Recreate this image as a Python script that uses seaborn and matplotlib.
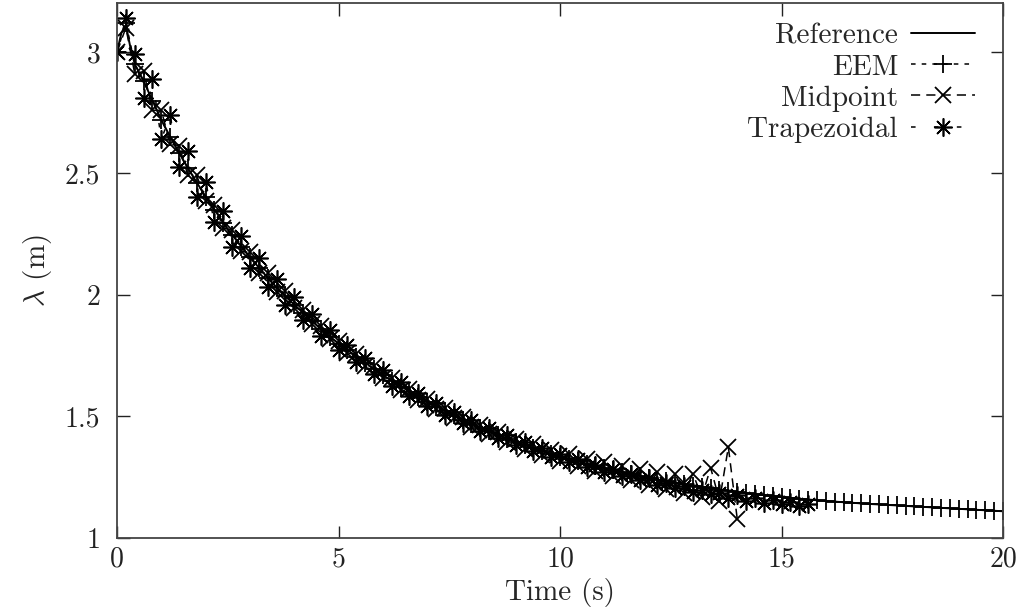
import numpy as np
import matplotlib
matplotlib.use("Agg")
import matplotlib.pyplot as plt
from matplotlib.ticker import FuncFormatter
import seaborn as sns

# ---------------- data ----------------
time_step = 0.2  # sampling step of the numerical methods (s)

ref_time = [0, 0.1, 0.2, 0.3, 0.4, 0.6, 0.8, 1.0, 1.25, 1.5, 1.75, 2.0, 2.5, 3.0,
            3.5, 4.0, 4.5, 5.0, 6.0, 7.0, 8.0, 9.0, 10.0, 11.0, 12.0, 13.0, 14.0,
            15.0, 16.0, 17.0, 18.0, 19.0, 20.0]
ref_vals = [3.00, 3.08, 3.11, 3.02, 2.95, 2.88, 2.80, 2.72, 2.634, 2.553, 2.477,
            2.405, 2.27, 2.155, 2.05, 1.96, 1.876, 1.80, 1.67, 1.56, 1.47, 1.395,
            1.335, 1.287, 1.247, 1.215, 1.189, 1.168, 1.152, 1.14, 1.13, 1.12, 1.11]

eem_vals = [3.000, 3.120, 2.950, 2.880, 2.800, 2.720, 2.650, 2.585, 2.522, 2.462,
            2.405, 2.349, 2.296, 2.246, 2.199, 2.155, 2.112, 2.071, 2.032, 1.995,
            1.960, 1.925, 1.892, 1.860, 1.829, 1.800, 1.772, 1.745, 1.719, 1.694,
            1.670, 1.646, 1.623, 1.601, 1.580, 1.560, 1.541, 1.523, 1.505, 1.487,
            1.470, 1.454, 1.439, 1.424, 1.409, 1.395, 1.382, 1.370, 1.358, 1.346,
            1.335, 1.325, 1.315, 1.305, 1.296, 1.287, 1.279, 1.271, 1.263, 1.255,
            1.247, 1.240, 1.233, 1.227, 1.221, 1.215, 1.209, 1.204, 1.199, 1.194,
            1.189, 1.184, 1.180, 1.176, 1.172, 1.168, 1.164, 1.161, 1.158, 1.155,
            1.152, 1.150, 1.147, 1.145, 1.142, 1.140, 1.138, 1.136, 1.134, 1.132,
            1.130, 1.128, 1.126, 1.124, 1.122, 1.120, 1.118, 1.116, 1.114, 1.112,
            1.110]

mid_vals = [3.000, 3.100, 2.910, 2.920, 2.760, 2.760, 2.620, 2.615, 2.492, 2.492,
            2.385, 2.369, 2.276, 2.266, 2.179, 2.175, 2.092, 2.091, 2.012, 2.015,
            1.948, 1.937, 1.880, 1.872, 1.817, 1.812, 1.760, 1.757, 1.707, 1.706,
            1.658, 1.658, 1.611, 1.613, 1.568, 1.572, 1.529, 1.535, 1.493, 1.499,
            1.458, 1.466, 1.427, 1.436, 1.397, 1.409, 1.368, 1.386, 1.342, 1.364,
            1.317, 1.345, 1.295, 1.327, 1.274, 1.311, 1.255, 1.297, 1.237, 1.283,
            1.219, 1.270, 1.203, 1.262, 1.186, 1.265, 1.169, 1.289, 1.154, 1.374,
            1.079]

trap_vals = [3.000, 3.140, 2.990, 2.810, 2.890, 2.640, 2.740, 2.525, 2.592, 2.402,
             2.465, 2.299, 2.346, 2.196, 2.244, 2.110, 2.152, 2.031, 2.067, 1.960,
             1.990, 1.895, 1.920, 1.832, 1.854, 1.775, 1.794, 1.723, 1.739, 1.674,
             1.690, 1.626, 1.641, 1.583, 1.598, 1.542, 1.556, 1.508, 1.520, 1.472,
             1.485, 1.439, 1.452, 1.411, 1.422, 1.382, 1.394, 1.358, 1.370, 1.334,
             1.345, 1.313, 1.323, 1.291, 1.302, 1.272, 1.283, 1.255, 1.265, 1.237,
             1.247, 1.220, 1.228, 1.205, 1.213, 1.191, 1.199, 1.179, 1.187, 1.166,
             1.175, 1.154, 1.165, 1.146, 1.156, 1.138, 1.148, 1.131, 1.140]

x_ticks = [0, 5, 10, 15, 20]
y_ticks = [1, 1.5, 2, 2.5, 3]
x_label = "Time (s)"
y_label = r"$\lambda$ (m)"
labels = ["Reference", "EEM", "Midpoint", "Trapezoidal"]


def sample_times(vals):
    return np.arange(len(vals)) * time_step


# ---------------- style ----------------
sns.set_style("ticks")
plt.rcParams["font.family"] = ["cmr10", "DejaVu Serif"]
plt.rcParams["mathtext.fontset"] = "cm"
plt.rcParams["axes.formatter.use_mathtext"] = True
plt.rcParams["axes.unicode_minus"] = False

fig = plt.figure(figsize=(10.24, 6.14), dpi=100)
ax = fig.add_axes([0.1143, 0.1238, 0.8652, 0.8707])

black = "black"
common = dict(ax=ax, color=black, sort=False, estimator=None)

sns.lineplot(x=ref_time, y=ref_vals, linewidth=1.4, label=labels[0], **common)
sns.lineplot(x=sample_times(eem_vals), y=eem_vals, linewidth=1.1,
             linestyle=(0, (3, 4)), marker="+", markersize=13,
             markeredgewidth=1.3, markeredgecolor=black, label=labels[1], **common)
sns.lineplot(x=sample_times(mid_vals), y=mid_vals, linewidth=1.1,
             linestyle=(0, (6, 4)), marker="x", markersize=11,
             markeredgewidth=1.3, markeredgecolor=black, label=labels[2], **common)
sns.lineplot(x=sample_times(trap_vals), y=trap_vals, linewidth=1.1,
             linestyle=(0, (3, 12)), marker=(8, 2, 0), markersize=13,
             markeredgewidth=1.2, markeredgecolor=black, label=labels[3], **common)

ax.set_xlim(0, 20)
ax.set_ylim(1, 3.2)
ax.set_xticks(x_ticks)
ax.set_yticks(y_ticks)
fmt = FuncFormatter(lambda v, p: f"{v:g}")
ax.xaxis.set_major_formatter(fmt)
ax.yaxis.set_major_formatter(fmt)
ax.tick_params(axis="both", which="major", direction="in", length=9, width=1.0,
               top=True, right=True, labelsize=20, colors="#222222")
ax.tick_params(axis="x", pad=6)
ax.tick_params(axis="y", pad=12)
for s in ax.spines.values():
    s.set_linewidth(1.3)
    s.set_color("#444444")

ax.set_xlabel(x_label, fontsize=21, labelpad=4)
ax.set_ylabel(y_label, fontsize=21, labelpad=8)

handles, _ = ax.get_legend_handles_labels()
ax.legend(handles=handles, labels=labels, loc="upper right", markerfirst=False,
          frameon=False, fontsize=21, handlelength=2.2, handletextpad=0.45,
          labelspacing=0.16, borderaxespad=0.0, bbox_to_anchor=(0.982, 0.985))

fig.savefig("out.png", dpi=100)
